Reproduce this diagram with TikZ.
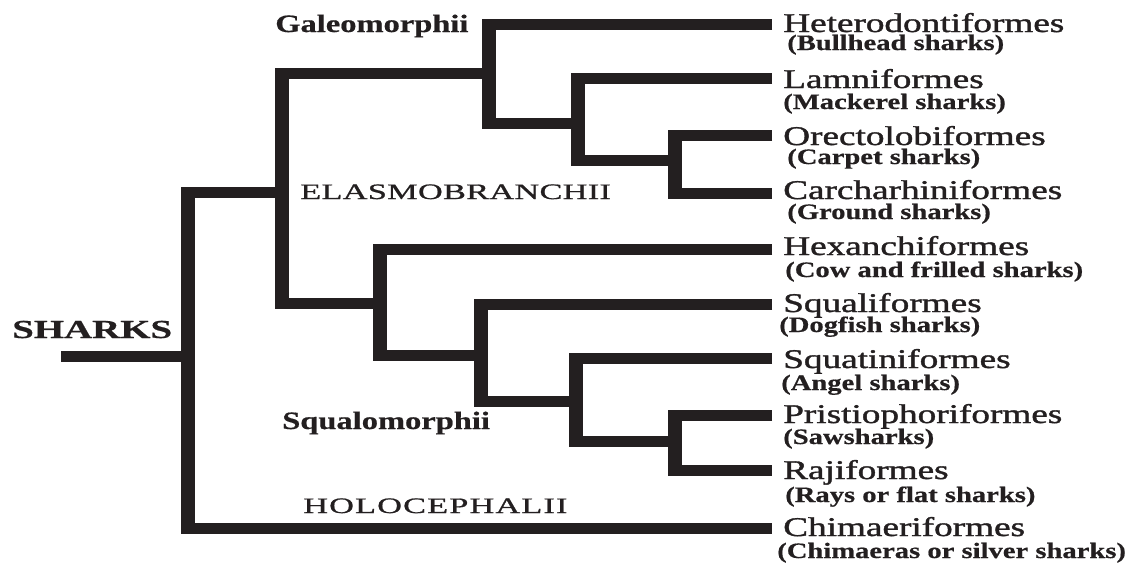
\documentclass[tikz,border=0pt]{standalone}
\usepackage{fontspec}
\setmainfont{Liberation Serif}
\newfontfamily\namefont[FakeStretch=1.06,FakeBold=1.2]{Liberation Serif}
\newfontfamily\rankfont[FakeStretch=1.2,FakeBold=0.8]{Liberation Serif}
\newfontfamily\rootfont[FakeStretch=1.15,FakeBold=0.6]{Liberation Serif Bold}
\newfontfamily\boldfont[FakeBold=0.5]{Liberation Serif Bold}
\definecolor{ink}{RGB}{35,31,32}

\tikzset{
  branch/.style={draw=ink, line width=11pt, line join=miter, line cap=butt},
  lbl/.style={anchor=base west, inner sep=0pt, text=ink},
  taxon/.style={lbl, font=\namefont\fontsize{27}{30}\selectfont},
  common/.style={lbl, font=\boldfont\fontsize{22}{26}\selectfont},
  clade/.style={lbl, font=\boldfont\fontsize{25}{28}\selectfont},
  rank/.style={lbl, font=\rankfont\fontsize{22}{26}\selectfont\addfontfeature{LetterSpace=#1}},
  root/.style={lbl, font=\rootfont\fontsize{26}{30}\selectfont},
}

\begin{document}
\begin{tikzpicture}
\fill[white] (0pt,0pt) rectangle (1134pt,-562pt);
\useasboundingbox (0pt,0pt) rectangle (1134pt,-562pt);

% the whole tree is set on a horizontally widened canvas
\begin{scope}[x=0.76923pt, y=-1pt, transform canvas={xscale=1.3}]

  % tips of the branches
  \coordinate (e-hetero)  at (772,24);
  \coordinate (e-lamni)   at (772,78);
  \coordinate (e-orecto)  at (772,135);
  \coordinate (e-carch)   at (772,193);
  \coordinate (e-hexan)   at (772,249);
  \coordinate (e-squali)  at (772,304);
  \coordinate (e-squati)  at (772,358);
  \coordinate (e-pristi)  at (772,415);
  \coordinate (e-raji)    at (772,470);
  \coordinate (e-chim)    at (772,528);

  % branching points
  \coordinate (j-galeo)   at (489,73);
  \coordinate (j-lamni)   at (578,123);
  \coordinate (j-orecto)  at (675,160);
  \coordinate (j-elasmo)  at (282,192);
  \coordinate (j-squalo)  at (380,303);
  \coordinate (j-squali)  at (481,355);
  \coordinate (j-squati)  at (576,401);
  \coordinate (j-pristi)  at (675,441);
  \coordinate (j-root)    at (188,356);
  \coordinate (e-root)    at (61,356);

  % branches
  \draw[branch] (e-hetero) -| (j-galeo)  |- (j-lamni);
  \draw[branch] (e-lamni)  -| (j-lamni)  |- (j-orecto);
  \draw[branch] (e-orecto) -| (j-orecto) |- (e-carch);
  \draw[branch] (j-galeo)  -| (j-elasmo) |- (j-squalo);
  \draw[branch] (e-hexan)  -| (j-squalo) |- (j-squali);
  \draw[branch] (e-squali) -| (j-squali) |- (j-squati);
  \draw[branch] (e-squati) -| (j-squati) |- (j-pristi);
  \draw[branch] (e-pristi) -| (j-pristi) |- (e-raji);
  \draw[branch] (j-elasmo) -| (j-root)   |- (e-chim);
  \draw[branch] (j-root) -- (e-root);

  % orders
  \node[taxon] (n-hetero) at (783,32)  {Heterodontiformes};
  \node[taxon] (n-lamni)  at (783,88)  {Lamniformes};
  \node[taxon] (n-orecto) at (783,145) {Orectolobiformes};
  \node[taxon] (n-carch)  at (783,199) {Carcharhiniformes};
  \node[taxon] (n-hexan)  at (783,255) {Hexanchiformes};
  \node[taxon] (n-squali) at (783,312) {Squaliformes};
  \node[taxon] (n-squati) at (783,368) {Squatiniformes};
  \node[taxon] (n-pristi) at (783,423) {Pristiophoriformes};
  \node[taxon] (n-raji)   at (783,479) {Rajiformes};
  \node[taxon] (n-chim)   at (783,536) {Chimaeriformes};

  % common names
  \node[common] (c-hetero) at (787,50)  {(Bullhead sharks)};
  \node[common] (c-lamni)  at (783,109) {(Mackerel sharks)};
  \node[common] (c-orecto) at (787,164) {(Carpet sharks)};
  \node[common] (c-carch)  at (787,219) {(Ground sharks)};
  \node[common] (c-hexan)  at (785,277) {(Cow and frilled sharks)};
  \node[common] (c-squali) at (779,332) {(Dogfish sharks)};
  \node[common] (c-squati) at (781,390) {(Angel sharks)};
  \node[common] (c-pristi) at (783,444) {(Sawsharks)};
  \node[common] (c-raji)   at (785,502) {(Rays or flat sharks)};
  \node[common] (c-chim)   at (777,558) {(Chimaeras or silver sharks)};

  % groups
  \node[clade] (g-galeo)  at (275,32)  {Galeomorphii};
  \node[clade] (g-squalo) at (282,429) {Squalomorphii};
  \node[rank=1] (g-elasmo) at (300,199) {ELASMOBRANCHII};
  \node[rank=4] (g-holo)   at (303,513) {HOLOCEPHALII};
  \node[root]  (g-root)   at (12,338)  {SHARKS};
\end{scope}
\end{tikzpicture}
\end{document}
